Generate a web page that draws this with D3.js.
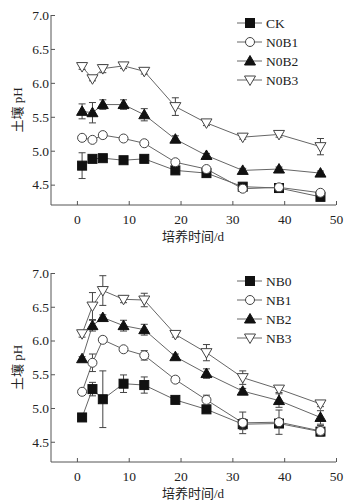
<!DOCTYPE html>
<html><head><meta charset="utf-8">
<script src="https://cdn.jsdelivr.net/npm/d3@7"></script>
<style>html,body{margin:0;padding:0;background:#fff;}svg{display:block;}</style>
</head><body>
<svg id="c" width="350" height="504"></svg>
<script>
const days = [1, 3, 5, 9, 13, 19, 25, 32, 39, 47];
const xTicks = [0, 10, 20, 30, 40, 50];
const yTicks = [4.5, 5.0, 5.5, 6.0, 6.5, 7.0];
const yTickLabels = ["4.5", "5.0", "5.5", "6.0", "6.5", "7.0"];
const xTitle = "培养时间/d";
const yTitle = "土壤 pH";

// Top panel
const topNames = ["CK", "N0B1", "N0B2", "N0B3"];
const topCK   = [4.78, 4.88, 4.89, 4.86, 4.88, 4.71, 4.67, 4.47, 4.45, 4.32];
const topN0B1 = [5.19, 5.16, 5.23, 5.18, 5.11, 4.83, 4.73, 4.44, 4.46, 4.38];
const topN0B2 = [5.58, 5.56, 5.68, 5.68, 5.53, 5.17, 4.93, 4.71, 4.73, 4.67];
const topN0B3 = [6.24, 6.06, 6.21, 6.25, 6.17, 5.65, 5.41, 5.20, 5.24, 5.06];
const topErrCK   = [0.19, 0.03, 0.03, 0.02, 0.03, 0.03, 0.03, 0.03, 0.03, 0.03];
const topErrN0B1 = [0.03, 0.03, 0.04, 0.03, 0.03, 0.04, 0.04, 0.04, 0.04, 0.04];
const topErrN0B2 = [0.11, 0.15, 0.07, 0.07, 0.09, 0.05, 0.03, 0.03, 0.03, 0.03];
const topErrN0B3 = [0.04, 0.03, 0.06, 0.04, 0.04, 0.13, 0.04, 0.03, 0.04, 0.12];

// Bottom panel
const botNames = ["NB0", "NB1", "NB2", "NB3"];
const botNB0 = [4.86, 5.28, 5.13, 5.36, 5.34, 5.12, 4.98, 4.76, 4.77, 4.65];
const botNB1 = [5.24, 5.67, 6.01, 5.87, 5.78, 5.42, 5.12, 4.78, 4.79, 4.66];
const botNB2 = [5.73, 6.22, 6.34, 6.22, 6.16, 5.76, 5.51, 5.25, 5.11, 4.86];
const botNB3 = [6.10, 6.51, 6.74, 6.61, 6.60, 6.09, 5.82, 5.45, 5.28, 5.06];
const botErrNB0 = [0.02, 0.10, 0.42, 0.13, 0.12, 0.03, 0.04, 0.08, 0.05, 0.05];
const botErrNB1 = [0.03, 0.13, 0.04, 0.03, 0.07, 0.04, 0.07, 0.16, 0.18, 0.08];
const botErrNB2 = [0.03, 0.08, 0.04, 0.08, 0.08, 0.04, 0.07, 0.04, 0.10, 0.10];
const botErrNB3 = [0.05, 0.20, 0.22, 0.05, 0.10, 0.04, 0.12, 0.10, 0.05, 0.04];

const markers = ["square", "circle", "triangle", "tridown"];

const svg = d3.select("#c");
const SERIF = "'Liberation Serif','Times New Roman',serif";
const CJK = "'Liberation Serif','Noto Sans CJK SC',serif";

function drawMarker(g, type, cx, cy) {
  const ink = "#111";
  if (type === "square") {
    g.append("rect").attr("x", cx - 4.5).attr("y", cy - 4.5).attr("width", 9).attr("height", 9)
      .attr("fill", ink).attr("stroke", ink);
  } else if (type === "circle") {
    g.append("circle").attr("cx", cx).attr("cy", cy).attr("r", 4.5)
      .attr("fill", "#fff").attr("stroke", "#444").attr("stroke-width", 1);
  } else if (type === "triangle") {
    g.append("path").attr("d", `M${cx},${cy - 5.5}L${cx + 5.5},${cy + 4}L${cx - 5.5},${cy + 4}Z`)
      .attr("fill", ink).attr("stroke", ink);
  } else {
    g.append("path").attr("d", `M${cx - 5.5},${cy - 4}L${cx + 5.5},${cy - 4}L${cx},${cy + 5.5}Z`)
      .attr("fill", "#fff").attr("stroke", "#444").attr("stroke-width", 1);
  }
}

function panel(top, bottom, names, series, errs) {
  const x = d3.scaleLinear().domain([-5, 50]).range([51, 336]);
  const y = d3.scaleLinear().domain([4.2, 7.0]).range([bottom, top]);
  const g = svg.append("g");

  // axes
  const xa = g.append("g").attr("transform", `translate(0,${bottom})`)
    .call(d3.axisBottom(x).tickValues(xTicks).tickSize(-4).tickPadding(9).tickSizeOuter(0));
  const ya = g.append("g").attr("transform", `translate(51,0)`)
    .call(d3.axisLeft(y).tickValues(yTicks).tickFormat((d, i) => yTickLabels[i]).tickSize(-4).tickPadding(2).tickSizeOuter(0));
  [xa, ya].forEach(a => {
    a.selectAll("path,line").attr("stroke", "#555").attr("stroke-width", 1);
    a.selectAll("text").attr("fill", "#222").style("font-family", SERIF).style("font-size", "13.5px");
  });
  xa.select(".domain").attr("d", `M${x(-5)},0H${x(50)}`);
  ya.select(".domain").attr("d", `M0,${y(7.0)}V${bottom}`);

  // titles
  g.append("text").attr("x", 193).attr("y", bottom + 36).attr("text-anchor", "middle")
    .attr("fill", "#222").style("font-family", CJK).style("font-size", "13px").text(xTitle);
  g.append("text").attr("transform", `translate(22,${(top + bottom) / 2}) rotate(-90)`)
    .attr("text-anchor", "middle").attr("fill", "#222")
    .style("font-family", CJK).style("font-size", "13px").text(yTitle);

  const line = d3.line().x(d => x(d[0])).y(d => y(d[1]));
  series.forEach((vals, si) => {
    const pts = days.map((d, i) => [d, vals[i]]);
    g.append("path").attr("d", line(pts)).attr("fill", "none")
      .attr("stroke", "#666").attr("stroke-width", 1);
  });
  series.forEach((vals, si) => {
    const sg = g.append("g");
    days.forEach((d, i) => {
      const e = errs[si][i];
      const cx = x(d), y1 = y(vals[i] + e), y2 = y(vals[i] - e);
      sg.append("line").attr("x1", cx).attr("x2", cx).attr("y1", y1).attr("y2", y2)
        .attr("stroke", "#444").attr("stroke-width", 1);
      [y1, y2].forEach(yy => sg.append("line").attr("x1", cx - 3.5).attr("x2", cx + 3.5)
        .attr("y1", yy).attr("y2", yy).attr("stroke", "#444").attr("stroke-width", 1));
    });
    days.forEach((d, i) => drawMarker(sg, markers[si], x(d), y(vals[i])));
  });

  // legend
  names.forEach((n, i) => {
    const ly = top + 8 + i * 19;
    const lg = g.append("g");
    lg.append("line").attr("x1", 237).attr("x2", 262).attr("y1", ly).attr("y2", ly)
      .attr("stroke", "#666").attr("stroke-width", 1);
    drawMarker(lg, markers[i], 250, ly);
    lg.append("text").attr("x", 266).attr("y", ly + 4.5).attr("fill", "#222")
      .style("font-family", SERIF).style("font-size", "13.5px").text(n);
  });
}

panel(15, 205, topNames, [topCK, topN0B1, topN0B2, topN0B3], [topErrCK, topErrN0B1, topErrN0B2, topErrN0B3]);
panel(273, 462, botNames, [botNB0, botNB1, botNB2, botNB3], [botErrNB0, botErrNB1, botErrNB2, botErrNB3]);
</script>
</body></html>
